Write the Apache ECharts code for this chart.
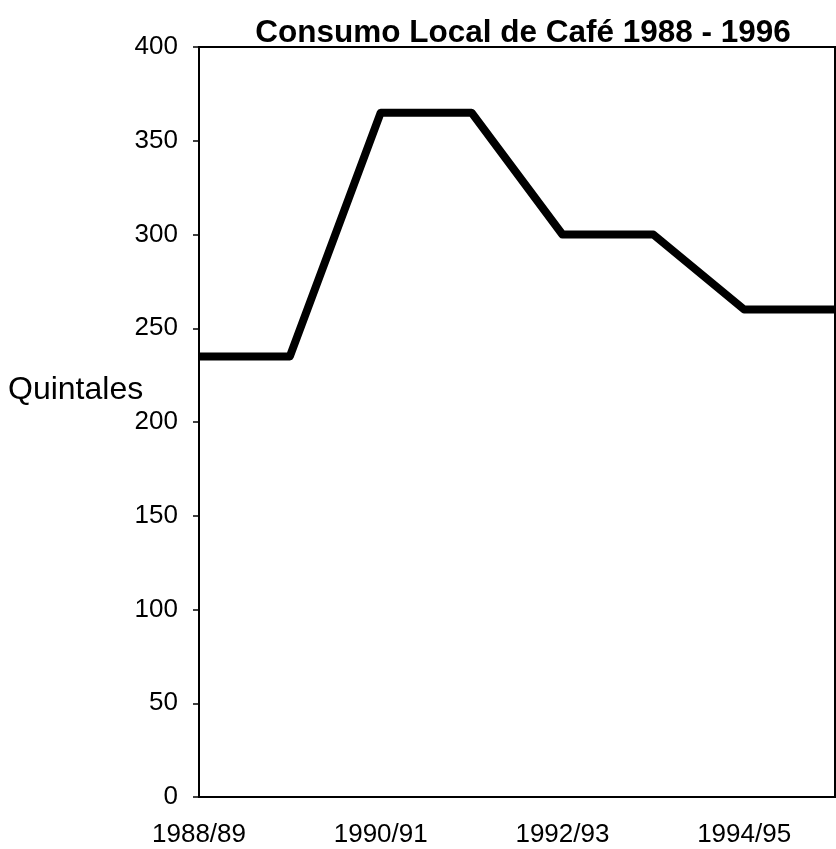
<!DOCTYPE html>
<html>
<head>
<meta charset="utf-8">
<script src="https://cdn.jsdelivr.net/npm/echarts@6/dist/echarts.min.js"></script>
<style>
  html, body { margin: 0; padding: 0; background: #fff; }
  #chart { width: 836px; height: 849px; }
</style>
</head>
<body>
<div id="chart"></div>
<script>
// datos
const periodos = ['1988/89', '1989/90', '1990/91', '1991/92', '1992/93', '1993/94', '1994/95', '1995/96']
const quintales = [235, 235, 365, 365, 300, 300, 260, 260]
const titulo = 'Consumo Local de Café 1988 - 1996'

const chart = echarts.init(document.getElementById('chart'))

const option = {
  backgroundColor: '#ffffff',
  animation: false,
  title: {
    text: titulo,
    left: 518,
    textAlign: 'center',
    top: 12,
    textStyle: {
      fontFamily: 'Liberation Sans, Arial',
      fontWeight: 'bold',
      fontSize: 31.5,
      color: '#000'
    }
  },
  grid: {
    left: 199,
    right: 1,
    top: 47,
    bottom: 52,
    show: true,
    borderColor: '#000',
    borderWidth: 2,
    backgroundColor: 'transparent'
  },
  // nombre del eje y, horizontal y algo por encima del centro
  graphic: [{
    type: 'text',
    left: 8,
    top: 374,
    style: {
      text: 'Quintales',
      font: '32px "Liberation Sans", Arial',
      fill: '#000'
    }
  }],
  xAxis: {
    type: 'category',
    data: periodos,
    boundaryGap: false,
    axisLine: { lineStyle: { color: '#000', width: 2 } },
    axisTick: { show: false },
    axisLabel: {
      interval: 1,
      margin: 25,
      color: '#000',
      fontFamily: 'Liberation Sans, Arial',
      fontSize: 26
    },
    splitLine: { show: false }
  },
  yAxis: {
    type: 'value',
    min: 0,
    max: 400,
    interval: 50,
    axisLine: { show: true, lineStyle: { color: '#000', width: 2 } },
    axisTick: { show: true, length: 6, lineStyle: { color: '#000', width: 1.5 } },
    axisLabel: {
      margin: 21,
      color: '#000',
      fontFamily: 'Liberation Sans, Arial',
      fontSize: 26
    },
    splitLine: { show: false }
  },
  series: [{
    type: 'line',
    data: quintales,
    symbol: 'none',
    lineStyle: { color: '#000', width: 8, join: 'round' },
    clip: false
  }]
}
chart.setOption(option)
</script>
</body>
</html>
